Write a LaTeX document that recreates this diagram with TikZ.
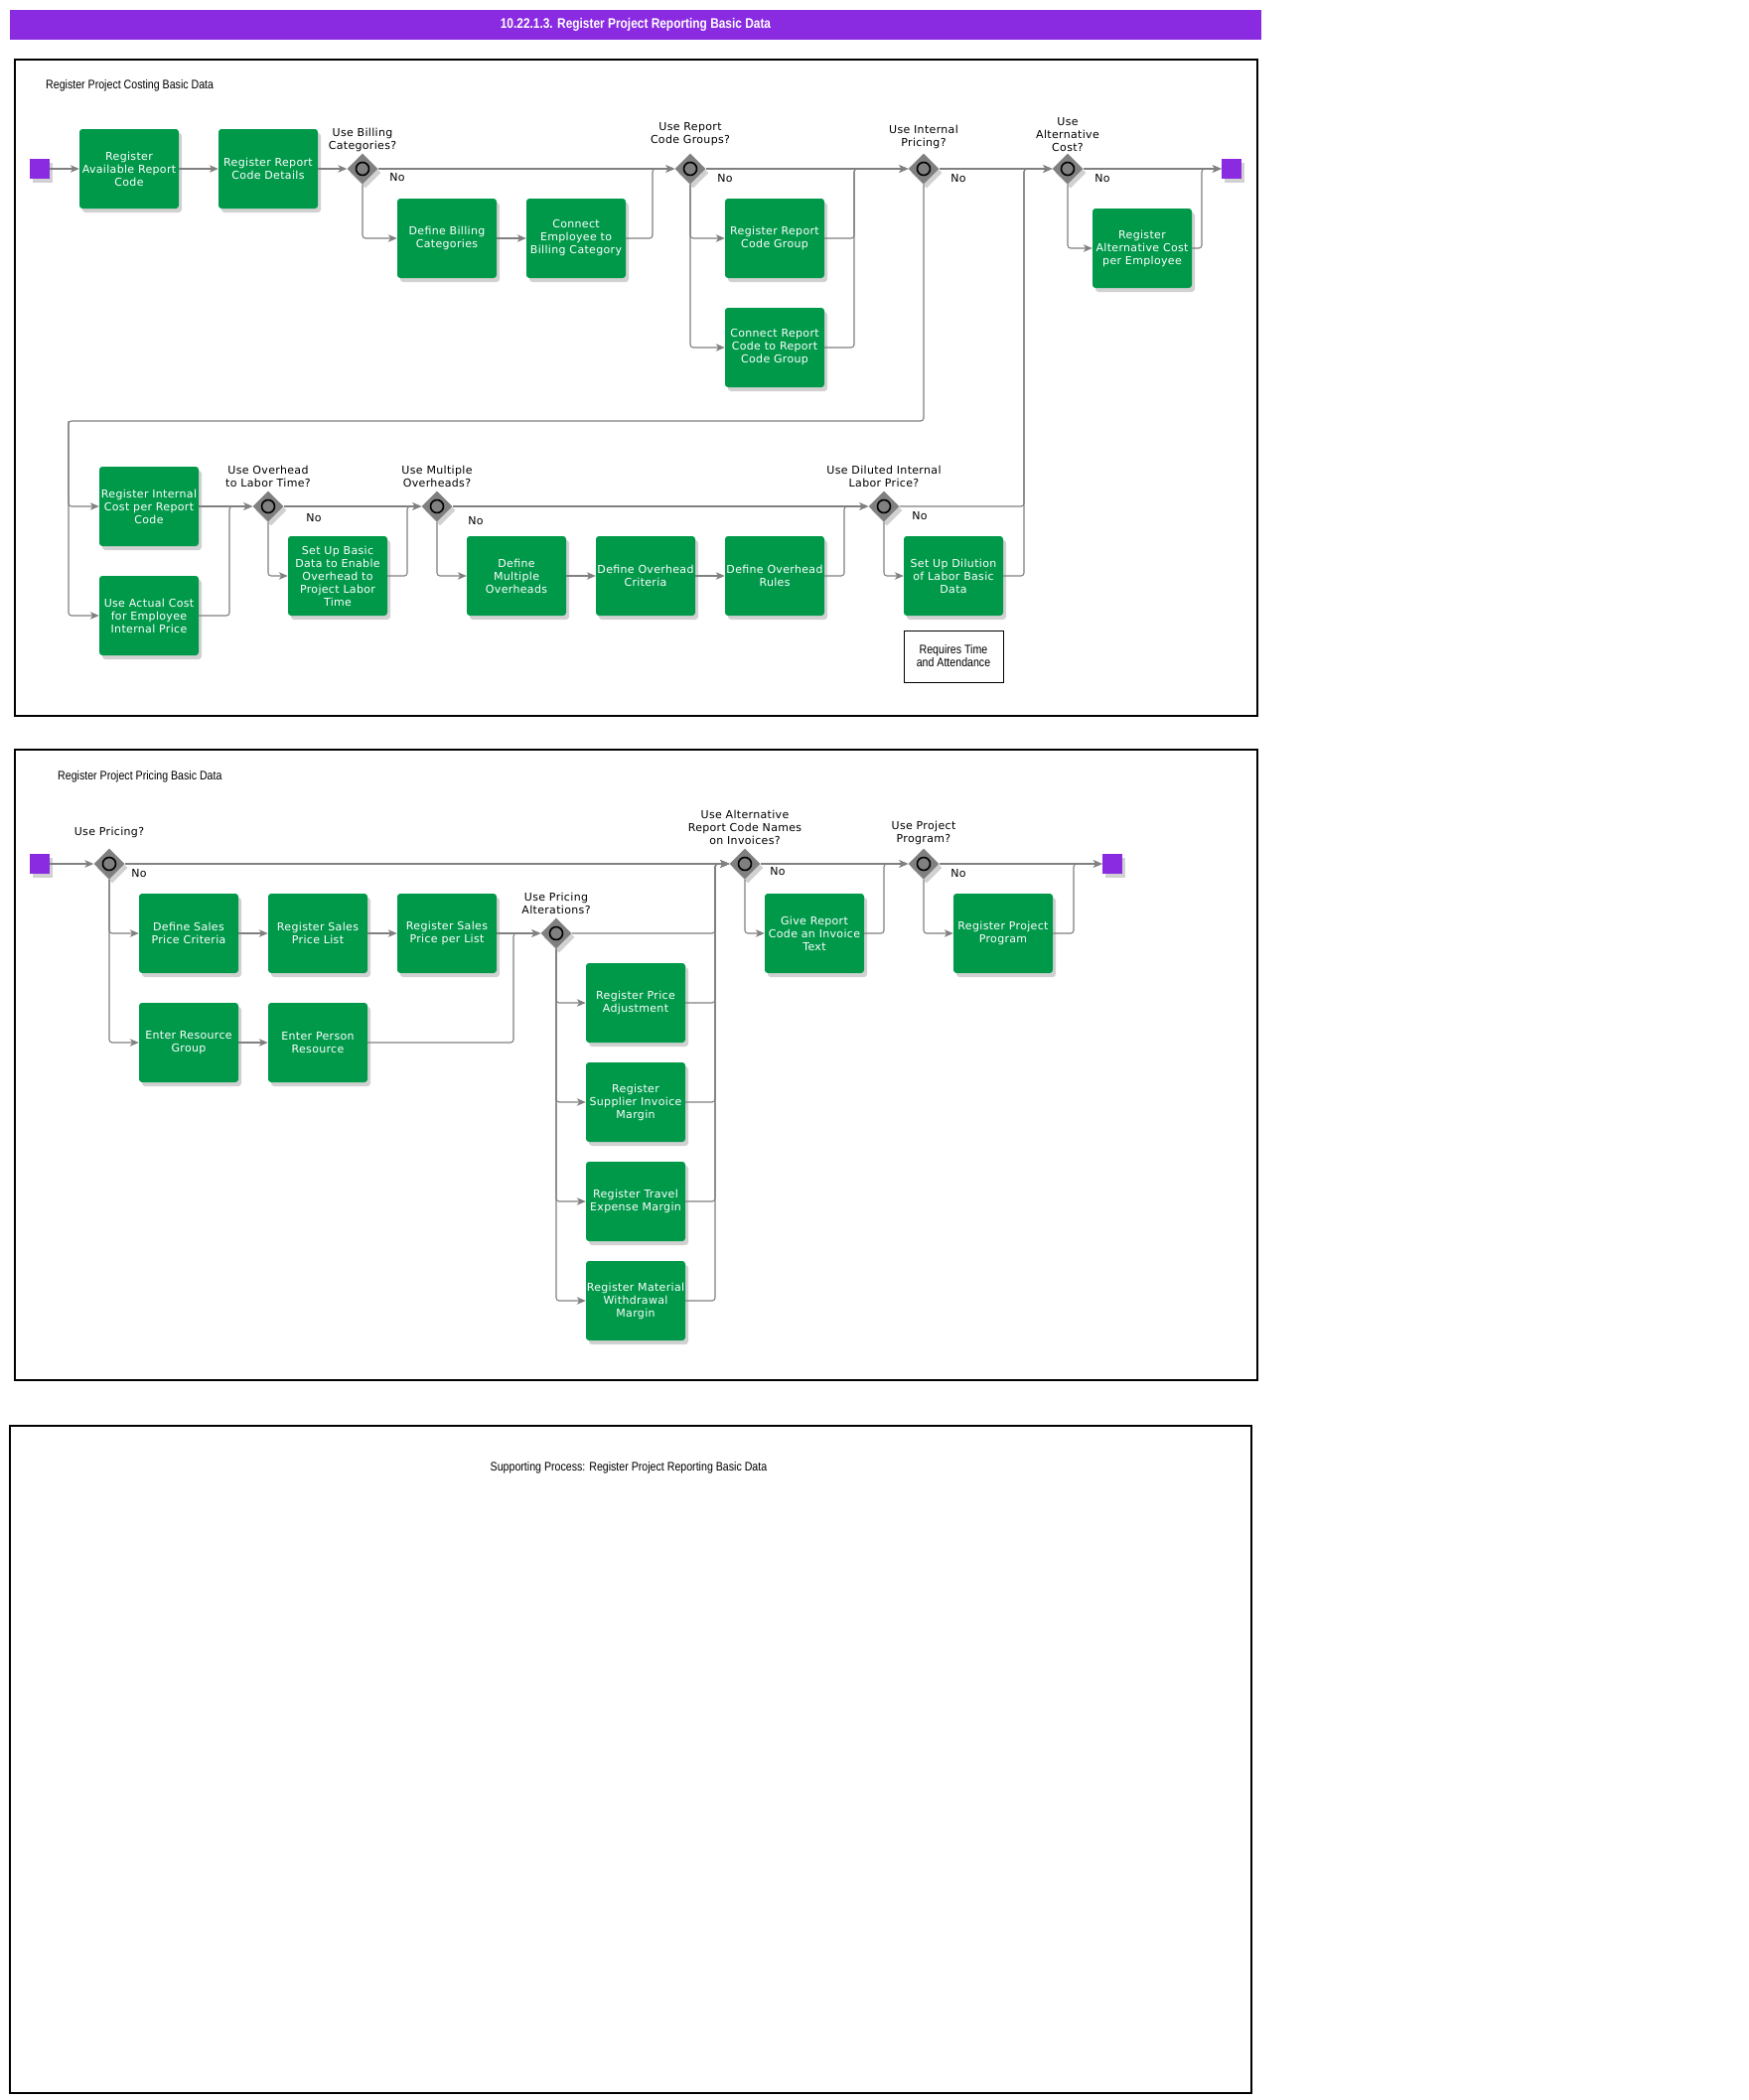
\documentclass[tikz,border=0pt]{standalone}
\usepackage{fontspec}
\setmainfont[LetterSpace=3]{DejaVu Sans}
\newfontfamily\narrowfont[FakeStretch=0.85]{Liberation Sans}
\usetikzlibrary{arrows.meta,positioning,shapes.geometric,shadows}
\definecolor{taskgreen}{RGB}{0,153,74}
\definecolor{eventpurple}{RGB}{138,43,226}
\definecolor{flowgray}{RGB}{128,128,128}
\tikzset{
  {soft shadow/.style}={drop shadow={shadow xshift=3pt, shadow yshift=-4pt,
                fill=black, opacity=.18}},
  {task/.style}={rectangle, rounded corners=3pt, fill=taskgreen, text=white,
                minimum width=100pt, minimum height=80pt, inner sep=0pt,
                align=center, font=\fontsize{11}{13}\selectfont, soft shadow},
  {gateway/.style}={diamond, aspect=1, minimum size=31pt, inner sep=0pt,
                fill=flowgray, soft shadow,
                path picture={\draw[line width=1.6pt, fill=flowgray]
                  (path picture bounding box.center) circle (6.5pt);}},
  {startend/.style}={rectangle, minimum size=20pt, inner sep=0pt,
                fill=eventpurple, soft shadow},
  {flow/.style}={draw=flowgray, line width=1.1pt, rounded corners=3pt,
                -{Stealth[length=9pt,width=7.5pt,inset=2.5pt]}},
  {glabel/.style}={align=center, inner sep=1pt, font=\fontsize{11}{13}\selectfont},
  {nolabel/.style}={inner sep=0pt, font=\fontsize{11}{13}\selectfont},
  {annot/.style}={draw, line width=1pt, fill=white, minimum width=100pt,
                minimum height=52pt, align=center,
                font=\narrowfont\fontsize{12.5}{13}\selectfont},
  {pool/.style}={draw, line width=1.3pt},
  {poollabel/.style}={inner sep=0pt, font=\narrowfont\fontsize{12.5}{14}\selectfont},
  {titlebar/.style}={rectangle, fill=eventpurple, text=white, minimum width=1260pt,
                minimum height=30pt, inner sep=0pt,
                font=\narrowfont\bfseries\fontsize{14}{16}\selectfont},
}

\begin{document}
\begin{tikzpicture}[x=1pt, y=-1pt]
  \useasboundingbox (0,0) rectangle (1761,2115);

  \node[titlebar] (title) at (640,25) {10.22.1.3. Register Project Reporting Basic Data};

  % costing pool
  \draw[pool] (15,60) rectangle (1266,721);
  \node[poollabel, anchor=west] (costlbl) at (46,86) {Register Project Costing Basic Data};

  \node[startend] (start1) at (40,170) {};
  \node[task] (availcode) at (130,170) {Register\\Available Report\\Code};
  \node[task] (codedetails) at (270,170) {Register Report\\Code Details};
  \node[gateway] (gwbilling) at (365,170) {};
  \node[task] (defbilling) at (450,240) {Define Billing\\Categories};
  \node[task] (connemp) at (580,240) {Connect\\Employee to\\Billing Category};
  \node[gateway] (gwgroups) at (695,170) {};
  \node[task] (codegroup) at (780,240) {Register Report\\Code Group};
  \node[task] (conncode) at (780,350) {Connect Report\\Code to Report\\Code Group};
  \node[gateway] (gwinternal) at (930,170) {};
  \node[gateway] (gwaltcost) at (1075,170) {};
  \node[task] (altcost) at (1150,250) {Register\\Alternative Cost\\per Employee};
  \node[startend] (end1) at (1240,170) {};

  \node[task] (intcost) at (150,510) {Register Internal\\Cost per Report\\Code};
  \node[task] (actcost) at (150,620) {Use Actual Cost\\for Employee\\Internal Price};
  \node[gateway] (gwoverhead) at (270,510) {};
  \node[task] (basicdata) at (340,580) {Set Up Basic\\Data to Enable\\Overhead to\\Project Labor\\Time};
  \node[gateway] (gwmulti) at (440,510) {};
  \node[task] (multi) at (520,580) {Define\\Multiple\\Overheads};
  \node[task] (criteria) at (650,580) {Define Overhead\\Criteria};
  \node[task] (rules) at (780,580) {Define Overhead\\Rules};
  \node[gateway] (gwdiluted) at (890,510) {};
  \node[task] (dilution) at (960,580) {Set Up Dilution\\of Labor Basic\\Data};
  \node[annot] (timeatt) at (960,661) {Requires Time\\and Attendance};

  \node[glabel, above=0pt of gwbilling] {Use Billing\\Categories?};
  \node[glabel, above=6pt of gwgroups] {Use Report\\Code Groups?};
  \node[glabel, above=3pt of gwinternal] {Use Internal\\Pricing?};
  \node[glabel, above=0pt of gwaltcost] {Use\\Alternative\\Cost?};
  \node[glabel, above=2pt of gwoverhead] {Use Overhead\\to Labor Time?};
  \node[glabel, above=2pt of gwmulti] {Use Multiple\\Overheads?};
  \node[glabel, above=2pt of gwdiluted] {Use Diluted Internal\\Labor Price?};

  \node[nolabel] at ([shift={(35,9)}]gwbilling) {No};
  \node[nolabel] at ([shift={(35,10)}]gwgroups) {No};
  \node[nolabel] at ([shift={(35,10)}]gwinternal) {No};
  \node[nolabel] at ([shift={(35,10)}]gwaltcost) {No};
  \node[nolabel] at ([shift={(46,12)}]gwoverhead) {No};
  \node[nolabel] at ([shift={(39,15)}]gwmulti) {No};
  \node[nolabel] at ([shift={(36,10)}]gwdiluted) {No};

  \coordinate (mbilling) at (657,170);
  \coordinate (mgroups) at (860,170);
  \coordinate (turnint) at (69,424);
  \coordinate (mactual) at (231,510);
  \coordinate (mbasic) at (410,510);
  \coordinate (mrules) at (850,510);
  \coordinate (mdiluted) at (1031,170);
  \coordinate (maltcost) at (1210,170);

  \draw[flow] (start1) -- (availcode);
  \draw[flow] (availcode) -- (codedetails);
  \draw[flow] (codedetails) -- (gwbilling);
  \draw[flow] (gwbilling) -- (gwgroups);
  \draw[flow] (gwbilling) |- (defbilling);
  \draw[flow] (defbilling) -- (connemp);
  \draw[flow] (connemp) -| (mbilling) -- (gwgroups);
  \draw[flow] (gwgroups) |- (codegroup);
  \draw[flow] (gwgroups) |- (conncode);
  \draw[flow] (gwgroups) -- (gwinternal);
  \draw[flow] (codegroup) -| (mgroups) -- (gwinternal);
  \draw[flow] (conncode) -| (mgroups) -- (gwinternal);
  \draw[flow] (gwinternal) -- (gwaltcost);
  \draw[flow] (gwinternal) |- (turnint) |- (intcost);
  \draw[flow] (turnint) |- (actcost);
  \draw[flow] (intcost) -- (gwoverhead);
  \draw[flow] (actcost) -| (mactual) -- (gwoverhead);
  \draw[flow] (gwoverhead) -- (gwmulti);
  \draw[flow] (gwoverhead) |- (basicdata);
  \draw[flow] (basicdata) -| (mbasic) -- (gwmulti);
  \draw[flow] (gwmulti) |- (multi);
  \draw[flow] (multi) -- (criteria);
  \draw[flow] (criteria) -- (rules);
  \draw[flow] (gwmulti) -- (gwdiluted);
  \draw[flow] (rules) -| (mrules) -- (gwdiluted);
  \draw[flow] (gwdiluted) |- (dilution);
  \draw[flow] (gwdiluted) -| (mdiluted) -- (gwaltcost);
  \draw[flow] (dilution) -| (mdiluted) -- (gwaltcost);
  \draw[flow] (gwaltcost) -- (end1);
  \draw[flow] (gwaltcost) |- (altcost);
  \draw[flow] (altcost) -| (maltcost) -- (end1);

  % pricing pool
  \draw[pool] (15,755) rectangle (1266,1390);
  \node[poollabel, anchor=west] (pricelbl) at (58,782) {Register Project Pricing Basic Data};

  \node[startend] (start2) at (40,870) {};
  \node[gateway] (gwpricing) at (110,870) {};
  \node[task] (salescrit) at (190,940) {Define Sales\\Price Criteria};
  \node[task] (saleslist) at (320,940) {Register Sales\\Price List};
  \node[task] (perlist) at (450,940) {Register Sales\\Price per List};
  \node[task] (resgroup) at (190,1050) {Enter Resource\\Group};
  \node[task] (personres) at (320,1050) {Enter Person\\Resource};
  \node[gateway] (gwalter) at (560,940) {};
  \node[task] (priceadj) at (640,1010) {Register Price\\Adjustment};
  \node[task] (suppmargin) at (640,1110) {Register\\Supplier Invoice\\Margin};
  \node[task] (travmargin) at (640,1210) {Register Travel\\Expense Margin};
  \node[task] (matmargin) at (640,1310) {Register Material\\Withdrawal\\Margin};
  \node[gateway] (gwinvoice) at (750,870) {};
  \node[task] (invtext) at (820,940) {Give Report\\Code an Invoice\\Text};
  \node[gateway] (gwprogram) at (930,870) {};
  \node[task] (program) at (1010,940) {Register Project\\Program};
  \node[startend] (end2) at (1120,870) {};

  \node[glabel, above=9pt of gwpricing] {Use Pricing?};
  \node[glabel, above=2pt of gwalter] {Use Pricing\\Alterations?};
  \node[glabel, above=2pt of gwinvoice] {Use Alternative\\Report Code Names\\on Invoices?};
  \node[glabel, above=2pt of gwprogram] {Use Project\\Program?};

  \node[nolabel] at ([shift={(30,10)}]gwpricing) {No};
  \node[nolabel] at ([shift={(33,8)}]gwinvoice) {No};
  \node[nolabel] at ([shift={(35,10)}]gwprogram) {No};

  \coordinate (mperson) at (517,940);
  \coordinate (malter) at (720,870);
  \coordinate (minvoice) at (890,870);
  \coordinate (mprogram) at (1081,870);

  \draw[flow] (start2) -- (gwpricing);
  \draw[flow] (gwpricing) -- (gwinvoice);
  \draw[flow] (gwpricing) |- (salescrit);
  \draw[flow] (gwpricing) |- (resgroup);
  \draw[flow] (salescrit) -- (saleslist);
  \draw[flow] (saleslist) -- (perlist);
  \draw[flow] (perlist) -- (gwalter);
  \draw[flow] (resgroup) -- (personres);
  \draw[flow] (personres) -| (mperson) -- (gwalter);
  \draw[flow] (gwalter) |- (priceadj);
  \draw[flow] (gwalter) |- (suppmargin);
  \draw[flow] (gwalter) |- (travmargin);
  \draw[flow] (gwalter) |- (matmargin);
  \draw[flow] (gwalter) -| (malter) -- (gwinvoice);
  \draw[flow] (priceadj) -| (malter) -- (gwinvoice);
  \draw[flow] (suppmargin) -| (malter) -- (gwinvoice);
  \draw[flow] (travmargin) -| (malter) -- (gwinvoice);
  \draw[flow] (matmargin) -| (malter) -- (gwinvoice);
  \draw[flow] (gwinvoice) -- (gwprogram);
  \draw[flow] (gwinvoice) |- (invtext);
  \draw[flow] (invtext) -| (minvoice) -- (gwprogram);
  \draw[flow] (gwprogram) -- (end2);
  \draw[flow] (gwprogram) |- (program);
  \draw[flow] (program) -| (mprogram) -- (end2);

  % supporting pool
  \draw[pool] (10,1436) rectangle (1260,2108);
  \node[poollabel] (supportlbl) at (633,1478) {Supporting Process: Register Project Reporting Basic Data};
\end{tikzpicture}
\end{document}
